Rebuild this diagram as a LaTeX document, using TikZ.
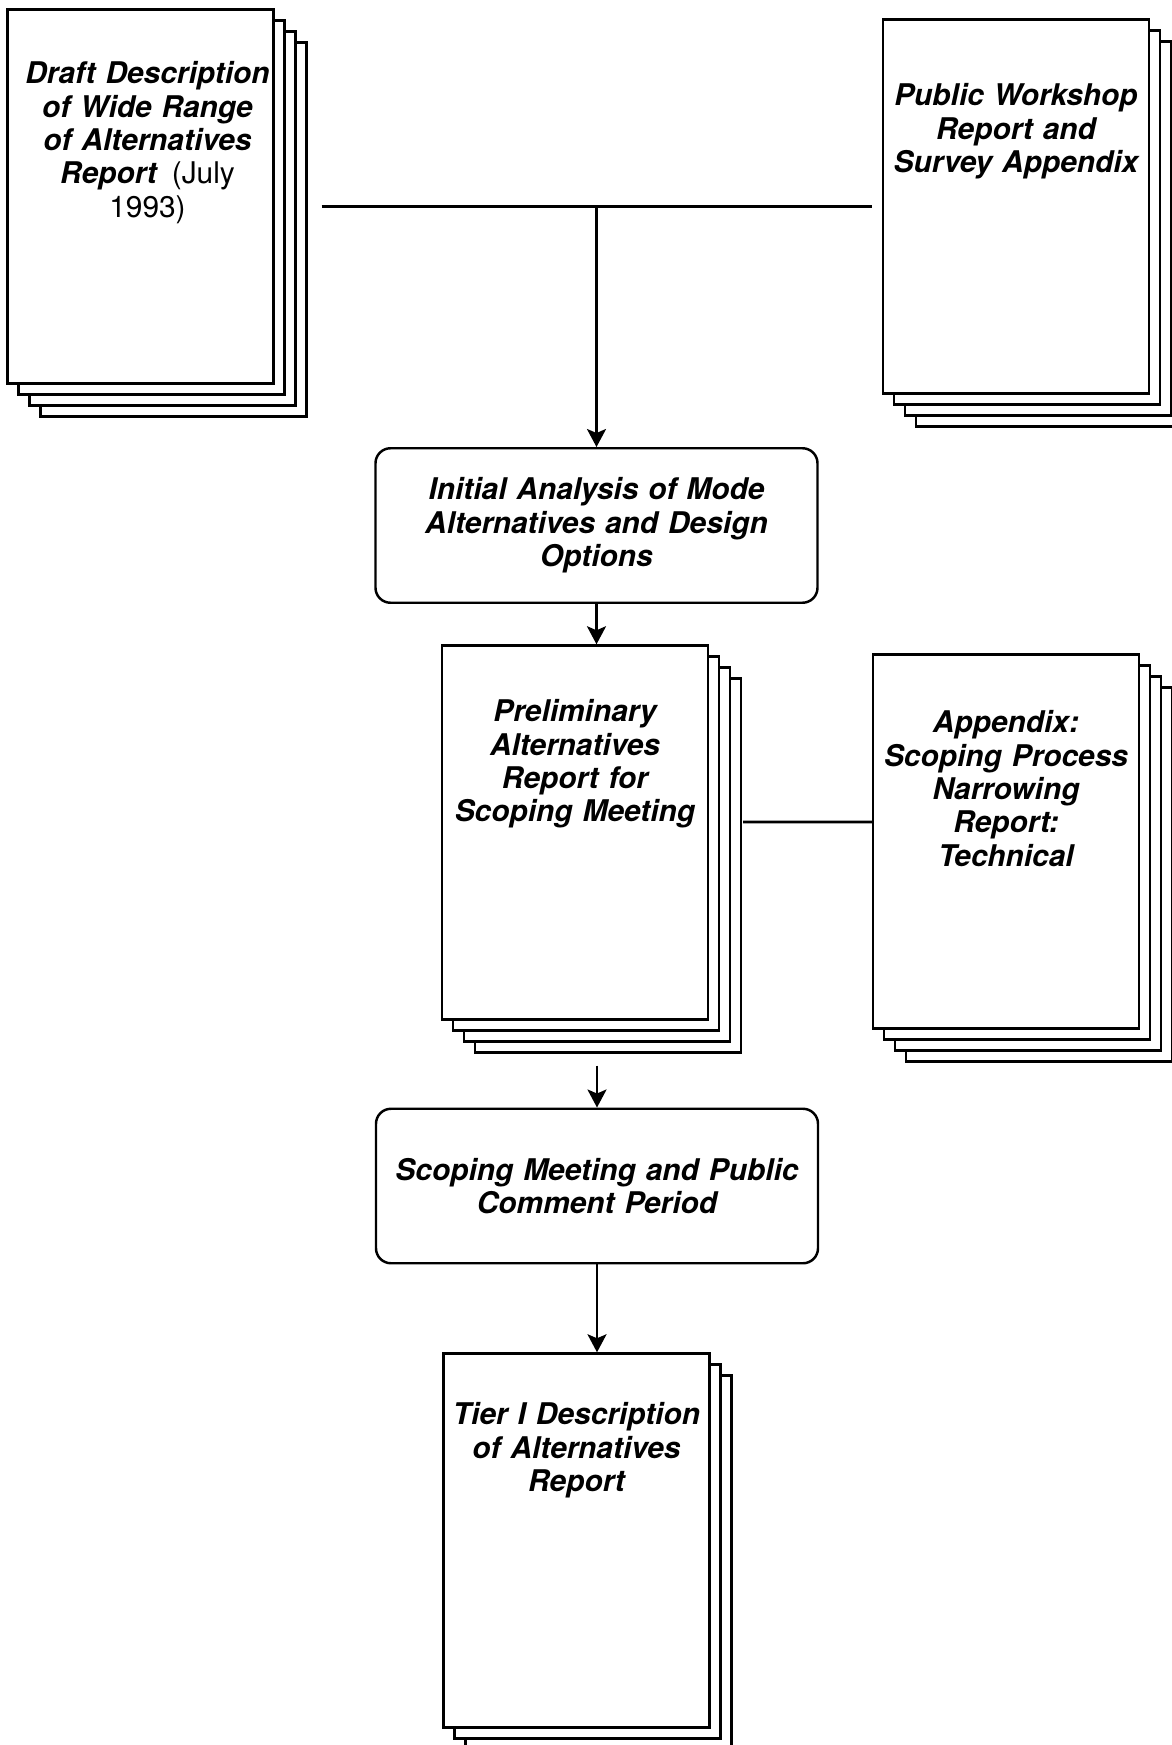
\documentclass[tikz,border=0pt]{standalone}
\usepackage{fontspec}
\setmainfont{TeX Gyre Heros}
\usetikzlibrary{positioning,shadows,arrows.meta}

\begin{document}
\begin{tikzpicture}[
  page/.style={rectangle, draw, fill=white, line width=1.4pt, minimum width=5.32cm, minimum height=7.48cm, inner sep=0pt},
  back/.style={copy shadow={shadow xshift=#1, shadow yshift=-#1, line width=1.4pt}},
  stack/.style={page, back=0.66cm, back=0.44cm, back=0.22cm},
  pair/.style={page, back=0.44cm, back=0.22cm},
  doctext/.style={inner sep=0pt, text width=5.3cm, align=center, font=\fontsize{17}{19}\selectfont\bfseries\itshape},
  step box/.style={rectangle, rounded corners=0.3cm, draw, fill=white, line width=1.4pt, minimum width=8.84cm, minimum height=3.09cm, text width=8.6cm, align=center, font=\fontsize{17}{19}\selectfont\bfseries\itshape},
  line/.style={line width=1.5pt},
  arrow/.style={line, -{Stealth[length=0.36cm, width=0.38cm, inset=0.08cm]}}
]
  \path[use as bounding box, fill=white] (0,0) rectangle (23.44,-34.9);

  \node[stack] (draft)    at (2.81,-3.93) {};
  \node[stack] (workshop) at (20.32,-4.13) {};
  \node[step box] (initial) at (11.93,-10.51) {Initial Analysis of Mode\\Alternatives and Design\\Options};
  \node[stack] (prelim)   at (11.50,-16.65) {};
  \node[stack] (appendix) at (20.12,-16.83) {};
  \node[step box] (scoping) at (11.94,-23.72) {Scoping Meeting and Public\\Comment Period};
  \node[pair]  (tier)     at (11.53,-30.81) {};

  \node[doctext, below=1.06cm of draft.north, xshift=0.14cm] (draft-txt)
    {Draft Description\\of Wide Range\\of Alternatives\\Report\enspace{\mdseries\upshape(July}\\{\mdseries\upshape 1993)}};
  \node[doctext, below=1.3cm of workshop.north] (workshop-txt)
    {Public Workshop\\Report and\\Survey Appendix};
  \node[doctext, below=1.1cm of prelim.north] (prelim-txt)
    {Preliminary\\Alternatives\\Report for\\Scoping Meeting};
  \node[doctext, below=1.14cm of appendix.north] (appendix-txt)
    {Appendix:\\Scoping Process\\Narrowing\\Report:\\Technical};
  \node[doctext, below=1.0cm of tier.north] (tier-txt)
    {Tier I Description\\of Alternatives\\Report};

  \coordinate (join) at (initial.north |- workshop.west);
  \draw[line, shorten <=0.94cm, shorten >=0.2cm] (draft.east |- workshop.west) -- (workshop.west);
  \draw[arrow] (join) -- (initial.north);
  \draw[arrow] (initial.south) -- (initial.south |- prelim.north);
  \draw[line, shorten <=0.68cm] ([yshift=0.21cm]prelim.east) -- ([yshift=0.39cm]appendix.west);
  \draw[arrow, shorten <=0.9cm] (prelim.south -| scoping.north) -- (scoping.north);
  \draw[arrow] (scoping.south) -- (scoping.south |- tier.north);
\end{tikzpicture}
\end{document}
